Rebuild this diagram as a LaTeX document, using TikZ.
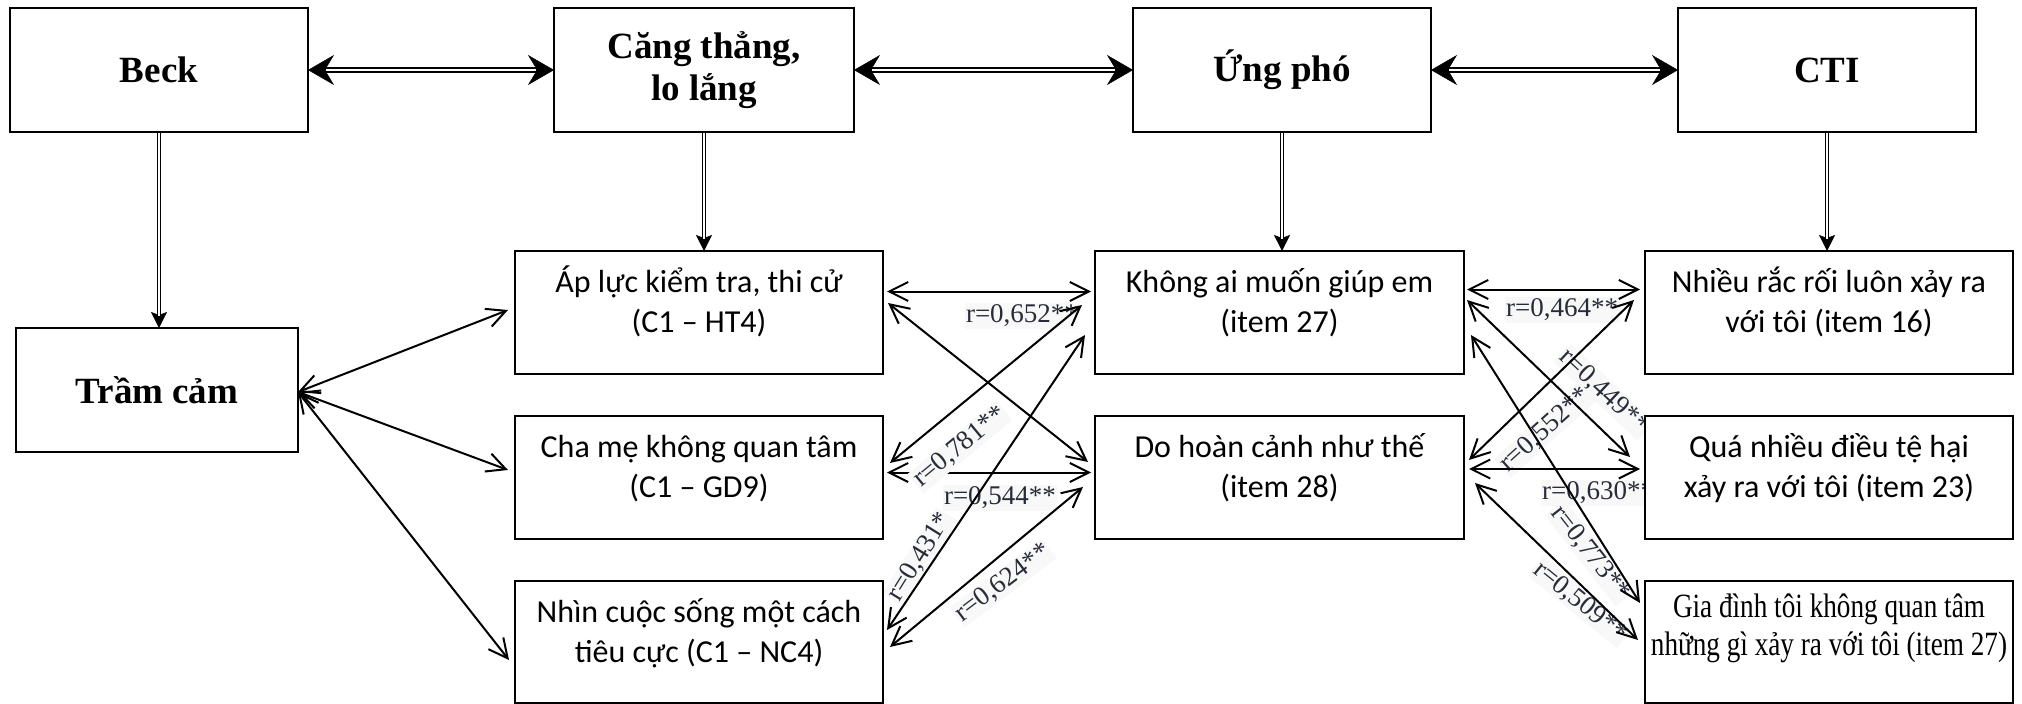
\documentclass[tikz,border=0pt]{standalone}
\usepackage{fontspec}
\setmainfont{Liberation Serif}
\newfontfamily\calibrifont{Carlito}
\newfontfamily\narrowserif[FakeStretch=0.8]{Liberation Serif}
\usetikzlibrary{arrows.meta}
\pgfdeclarelayer{paper}
\pgfdeclarelayer{under}
\pgfdeclarelayer{tags}
\pgfdeclarelayer{links}
\pgfsetlayers{paper,under,tags,links,main}
% keeps the first line of an item box at a fixed height
\newcommand{\firststrut}{\rule{0pt}{34pt}}

\begin{document}
\begin{tikzpicture}[x=1pt, y=-1pt,
  box/.style={draw, line width=1.8pt, fill=white, inner sep=0pt, outer sep=0pt, anchor=north west},
  headbox/.style={box, minimum width=298pt, minimum height=124pt, align=center,
    font=\fontsize{37}{42}\selectfont\bfseries},
  itembox/.style={box, minimum width=368pt, minimum height=123pt},
  itemtext/.style={anchor=north, inner sep=0pt, align=center,
    font=\calibrifont\fontsize{32}{40}\selectfont},
  serifitem/.style={anchor=north, inner sep=0pt, align=center,
    font=\narrowserif\fontsize{34}{37.7}\selectfont},
  rtag/.style={font=\fontsize{27}{27}\selectfont, text={rgb,255:red,40;green,44;blue,56},
    fill={rgb,255:red,248;green,248;blue,249}, inner sep=1.5pt},
  link/.style={line width=2pt,
    {Straight Barb[length=19pt,width=19pt]}-{Straight Barb[length=19pt,width=19pt]}},
  hdbl/.style={line width=6pt,
    {Stealth[length=26pt,width=30pt,inset=9pt,line width=0.5pt]}-{Stealth[length=26pt,width=30pt,inset=9pt,line width=0.5pt]}},
  hgap/.style={white, line width=2pt, shorten <=18pt, shorten >=18pt},
  vdbl/.style={line width=4.8pt, -{Stealth[length=16pt,width=16pt,inset=3pt,line width=0.5pt]}},
  vgap/.style={white, line width=1.8pt, shorten <=1pt, shorten >=12pt}
]
\begin{pgfonlayer}{paper}
  \fill[white] (0,0) rectangle (2022,704);
\end{pgfonlayer}
\useasboundingbox (0,0) rectangle (2022,704);

% scales
\node[headbox] (beck) at (10,8) {Beck};
\node[headbox, minimum width=300pt] (cang) at (554,8) {Căng thẳng,\\lo lắng};
\node[headbox] (ungpho) at (1133,8) {Ứng phó};
\node[headbox] (cti) at (1678,8) {CTI};
\node[headbox, minimum width=282pt] (tramcam) at (16,328) {Trầm cảm};

% items of the stress scale
\node[itembox] (apluc) at (515,251) {};
\node[itemtext] (apluc-t) at ([yshift=-7pt]apluc.north) {\firststrut Áp lực kiểm tra, thi cử\\(C1 – HT4)};
\node[itembox] (chame) at (515,416) {};
\node[itemtext] (chame-t) at ([yshift=-7pt]chame.north) {\firststrut Cha mẹ không quan tâm\\(C1 – GD9)};
\node[itembox, minimum height=122pt] (nhin) at (515,581) {};
\node[itemtext] (nhin-t) at ([yshift=-7pt]nhin.north) {\firststrut Nhìn cuộc sống một cách\\tiêu cực (C1 – NC4)};

% items of the coping scale
\node[itembox, minimum width=369pt] (khongai) at (1095,251) {};
\node[itemtext] (khongai-t) at ([yshift=-7pt]khongai.north) {\firststrut Không ai muốn giúp em\\(item 27)};
\node[itembox, minimum width=369pt] (dohoan) at (1095,416) {};
\node[itemtext] (dohoan-t) at ([yshift=-7pt]dohoan.north) {\firststrut Do hoàn cảnh như thế\\(item 28)};

% items of the CTI scale
\node[itembox] (nhieu) at (1645,251) {};
\node[itemtext] (nhieu-t) at ([yshift=-7pt]nhieu.north) {\firststrut Nhiều rắc rối luôn xảy ra\\với tôi (item 16)};
\node[itembox] (qua) at (1645,416) {};
\node[itemtext] (qua-t) at ([yshift=-7pt]qua.north) {\firststrut Quá nhiều điều tệ hại\\xảy ra với tôi (item 23)};
\node[itembox, minimum height=122pt] (gia) at (1645,581) {};
\node[serifitem] (gia-t) at ([yshift=-2.7pt]gia.north) {\firststrut Gia đình tôi không quan tâm\\những gì xảy ra với tôi (item 27)};

% links between the scales
\foreach \a/\b in {beck/cang, cang/ungpho, ungpho/cti} {
  \draw[hdbl] (\a) -- (\b);
  \draw[hgap] (\a) -- (\b);
}
\foreach \a/\b in {beck/tramcam, cang/apluc, ungpho/khongai, cti/nhieu} {
  \draw[vdbl] (\a.south) -- (\a.south |- \b.north);
  \draw[vgap] (\a.south) -- (\a.south |- \b.north);
}

% correlation arrows
\begin{pgfonlayer}{under}
  \draw[link] ([xshift=4pt,yshift=5pt]chame.east) -- ([xshift=-4pt,yshift=5pt]dohoan.west);
\end{pgfonlayer}

\begin{pgfonlayer}{tags}
  \node[rtag] (r652) at (1022,316) {r=0,652**};
  \node[rtag, rotate=39.5] (r781) at (960,447) {r=0,781**};
  \node[rtag] (r544) at (1000,498) {r=0,544**};
  \node[rtag, rotate=58] (r431) at (920,557) {r=0,431*};
  \node[rtag, rotate=37] (r624) at (1003,583) {r=0,624**};
  \node[rtag] (r464) at (1562,310) {r=0,464**};
  \node[rtag, rotate=-43] (r449) at (1604,392) {r=0,449**};
  \node[rtag, rotate=42] (r552) at (1545,430) {r=0,552**};
  \node[rtag] (r630) at (1598,493) {r=0,630**};
  \node[rtag, rotate=-52] (r773) at (1590,553) {r=0,773**};
  \node[rtag, rotate=-39] (r509) at (1580,602) {r=0,509**};
\end{pgfonlayer}

\begin{pgfonlayer}{links}
  % depression to the stress items
  \draw[link] ([yshift=-2pt]tramcam.east) -- ([xshift=-7pt,yshift=2.5pt]apluc.west);
  \draw[link] ([yshift=-2pt]tramcam.east) -- ([xshift=-7pt,yshift=7.5pt]chame.west);
  \draw[link] ([yshift=-2pt]tramcam.east) -- ([xshift=-6pt,yshift=-18pt]nhin.west);
  % stress items to coping items
  \draw[link] ([xshift=4pt,yshift=21pt]apluc.east) -- ([xshift=-4pt,yshift=21pt]khongai.west);
  \draw[link] ([xshift=5pt,yshift=9.5pt]apluc.east) -- ([xshift=-7pt,yshift=15.5pt]dohoan.west);
  \draw[link] ([xshift=7pt,yshift=14.5pt]chame.east) -- ([xshift=-13pt,yshift=7.5pt]khongai.west);
  \draw[link] ([xshift=4pt,yshift=12pt]nhin.east) -- ([xshift=-10pt,yshift=-22.5pt]khongai.west);
  \draw[link] ([xshift=7pt,yshift=-5pt]nhin.east) -- ([xshift=-12pt,yshift=-9.5pt]dohoan.west);
  % coping items to CTI items
  \draw[link] ([xshift=3pt,yshift=23pt]khongai.east) -- ([xshift=-5pt,yshift=23pt]nhieu.west);
  \draw[link] ([xshift=3pt,yshift=12.5pt]khongai.east) -- ([xshift=-15pt,yshift=20.5pt]qua.west);
  \draw[link] ([xshift=5pt,yshift=17.5pt]dohoan.east) -- ([xshift=-11pt,yshift=12.5pt]nhieu.west);
  \draw[link] ([xshift=5pt,yshift=8.5pt]dohoan.east) -- ([xshift=-5pt,yshift=8.5pt]qua.west);
  \draw[link] ([xshift=7pt,yshift=-22.5pt]khongai.east) -- ([xshift=-5pt,yshift=39pt]gia.west);
  \draw[link] ([xshift=11pt,yshift=-5.5pt]dohoan.east) -- ([xshift=-7pt,yshift=2pt]gia.west);
\end{pgfonlayer}
\end{tikzpicture}
\end{document}
